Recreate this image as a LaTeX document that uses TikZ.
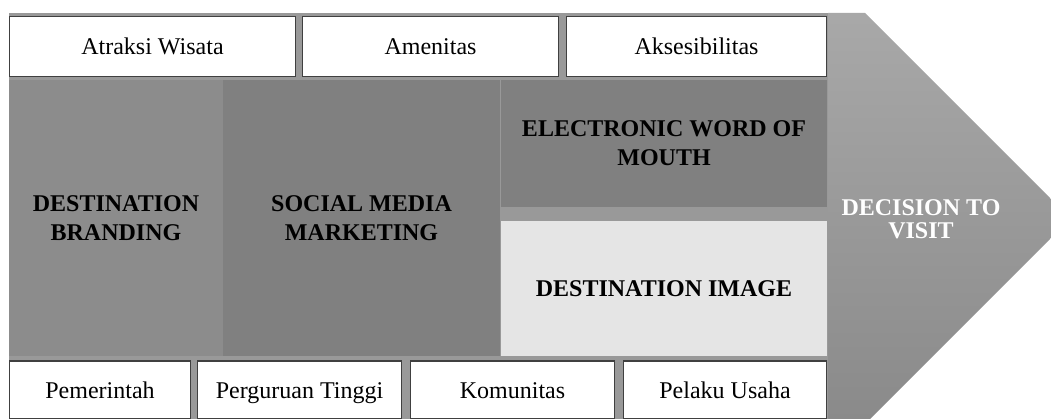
\documentclass[tikz,border=0pt]{standalone}
\usepackage{fontspec}
\setmainfont{Liberation Serif}
\usepackage{tikz}

\begin{document}
\begin{tikzpicture}[x=1pt, y=-1pt,
		whitebox/.style={rectangle, draw=black!75, line width=1.3pt, fill=white, inner sep=0pt, minimum height=60pt, text height=17pt, text depth=0pt, font=\fontsize{24}{29}\selectfont},
		greybox/.style={rectangle, inner sep=0pt, align=center, font=\fontsize{24}{29}\selectfont\bfseries}]
		\useasboundingbox (0,0) rectangle (1051,419);
		\clip (0,0) rectangle (1051,419);
		
		% grey backing and the arrow on the right
		\fill [black!40] (9,13) rectangle (828,419);
		\shade [top color=black!34, bottom color=black!46] (828,13) -- (865,13) -- (1070.5,218.5) -- (865,424) -- (828,424) -- cycle;
		
		\node (rectatraksi) [whitebox, minimum width=286pt] at (152.5,46.5) {Atraksi Wisata};
		\node (rectamenitas) [whitebox, minimum width=256pt] at (430.5,46.5) {Amenitas};
		\node (rectaksesibilitas) [whitebox, minimum width=260pt] at (696.5,46.5) {Aksesibilitas};
		
		\node (rectbranding) [greybox, fill=black!45, minimum width=214pt, minimum height=276pt] at (116,218) {DESTINATION\\BRANDING};
		\node (rectsocial) [greybox, fill=black!50, minimum width=277pt, minimum height=276pt] at (361.5,218) {SOCIAL MEDIA\\MARKETING};
		\node (rectewom) [greybox, fill=black!50, minimum width=326pt, minimum height=127pt] at (664,143.5) {ELECTRONIC WORD OF\\MOUTH};
		\node (rectimage) [greybox, fill=black!10, minimum width=326pt, minimum height=135pt] at (664,288.5) {DESTINATION IMAGE};
		
		\node (rectdecision) [greybox, text=white, font=\fontsize{24}{23}\selectfont\bfseries] at (921,219) {DECISION TO\\VISIT};
		
		\node (rectpemerintah) [whitebox, minimum width=181pt, minimum height=58pt] at (100,390) {Pemerintah};
		\node (rectperguruan) [whitebox, minimum width=204pt, minimum height=58pt] at (299.5,390) {Perguruan Tinggi};
		\node (rectkomunitas) [whitebox, minimum width=204pt, minimum height=58pt] at (512.5,390) {Komunitas};
		\node (rectpelaku) [whitebox, minimum width=203pt, minimum height=58pt] at (725,390) {Pelaku Usaha};
		
\end{tikzpicture}
\end{document}
